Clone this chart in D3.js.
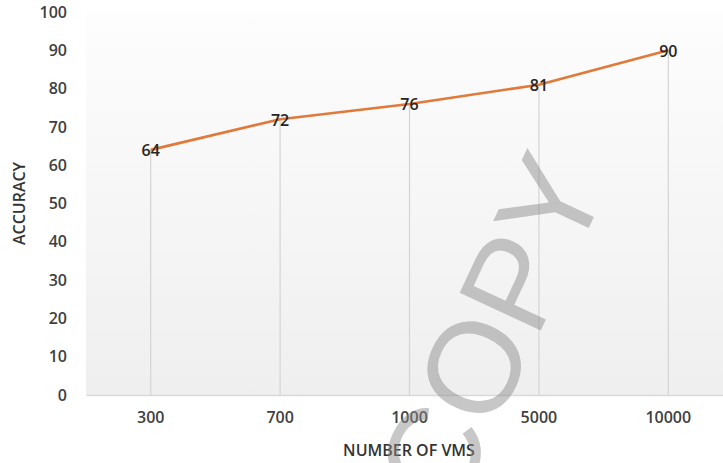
<!DOCTYPE html>
<html>
<head>
<meta charset="utf-8">
<script src="https://cdn.jsdelivr.net/npm/d3@7/dist/d3.min.js"></script>
<style>
  html, body { margin: 0; padding: 0; background: #fff; }
  svg { display: block; }
</style>
</head>
<body>
<svg id="chart" width="723" height="463"></svg>
<script>
// Accuracy by number of VMs
const categories = ["300", "700", "1000", "5000", "10000"];
const accuracy = [64, 72, 76, 81, 90];
const yTicks = [0, 10, 20, 30, 40, 50, 60, 70, 80, 90, 100];

const W = 723, H = 463;
const margin = { left: 86, right: -10, top: 12, bottom: 68 };
const svg = d3.select("#chart");

const x = d3.scaleBand()
  .domain(categories)
  .range([margin.left, W - margin.right]);

const y = d3.scaleLinear()
  .domain([0, 100])
  .range([H - margin.bottom, margin.top]);

const font = "'Open Sans', 'Liberation Sans', sans-serif";

// plot area shading
const defs = svg.append("defs");
const grad = defs.append("linearGradient")
  .attr("id", "plotBg").attr("x1", 0).attr("y1", 0).attr("x2", 0).attr("y2", 1);
grad.append("stop").attr("offset", "0%").attr("stop-color", "#fdfdfd");
grad.append("stop").attr("offset", "100%").attr("stop-color", "#efefef");

svg.append("rect")
  .attr("x", margin.left).attr("y", y(100))
  .attr("width", W - margin.left).attr("height", y(0) - y(100))
  .attr("fill", "url(#plotBg)");

// y axis labels (no axis line)
const yAxis = d3.axisLeft(y).tickValues(yTicks).tickSize(0).tickPadding(0);
const gy = svg.append("g")
  .attr("transform", `translate(67,0)`)
  .call(yAxis);
gy.select(".domain").remove();
gy.selectAll("text")
  .attr("font-family", font).attr("font-size", 16).attr("font-weight", 600)
  .attr("fill", "#404040");

// x axis baseline and category labels
const xAxis = d3.axisBottom(x).tickSize(0).tickPadding(17);
const gx = svg.append("g")
  .attr("transform", `translate(0,${y(0)})`)
  .call(xAxis);
gx.select(".domain").attr("stroke", "#d9d9d9").attr("stroke-width", 1.5);
gx.selectAll("text")
  .attr("font-family", font).attr("font-size", 16).attr("font-weight", 600)
  .attr("fill", "#404040");

const cx = d => x(d) + x.bandwidth() / 2;
const pts = categories.map((c, i) => ({ c, v: accuracy[i] }));

// drop lines from each point to the baseline
svg.append("g").selectAll("line").data(pts).join("line")
  .attr("x1", d => cx(d.c)).attr("x2", d => cx(d.c))
  .attr("y1", d => y(d.v)).attr("y2", y(0))
  .attr("stroke", "#d4d4d4").attr("stroke-width", 1.2);

// accuracy line
const line = d3.line().x(d => cx(d.c)).y(d => y(d.v));
svg.append("path")
  .datum(pts)
  .attr("d", line)
  .attr("fill", "none")
  .attr("stroke", "#e0793a")
  .attr("stroke-width", 2.6)
  .attr("stroke-linejoin", "round");

// value labels centred on points
svg.append("g").selectAll("text").data(pts).join("text")
  .attr("x", d => cx(d.c)).attr("y", d => y(d.v) + 2)
  .attr("text-anchor", "middle").attr("dominant-baseline", "middle")
  .attr("font-family", font).attr("font-size", 16).attr("font-weight", 600)
  .attr("fill", "#262626")
  .text(d => d.v);

// axis titles
svg.append("text")
  .attr("transform", `translate(25,${(y(0) + y(100)) / 2}) rotate(-90)`)
  .attr("text-anchor", "middle")
  .attr("font-family", font).attr("font-size", 16).attr("font-weight", 600)
  .attr("fill", "#333")
  .text("ACCURACY");

svg.append("text")
  .attr("x", 409).attr("y", 456)
  .attr("text-anchor", "middle")
  .attr("font-family", font).attr("font-size", 16).attr("font-weight", 600)
  .attr("fill", "#333")
  .text("NUMBER OF VMS");

// watermark
svg.append("text")
  .attr("transform", "translate(491,331) rotate(-65)")
  .attr("text-anchor", "middle").attr("dominant-baseline", "central")
  .attr("font-family", "'Liberation Sans', Arial, sans-serif")
  .attr("font-size", 130)
  .attr("fill", "#8a8a8a").attr("fill-opacity", 0.48)
  .text("COPY");
</script>
</body>
</html>
